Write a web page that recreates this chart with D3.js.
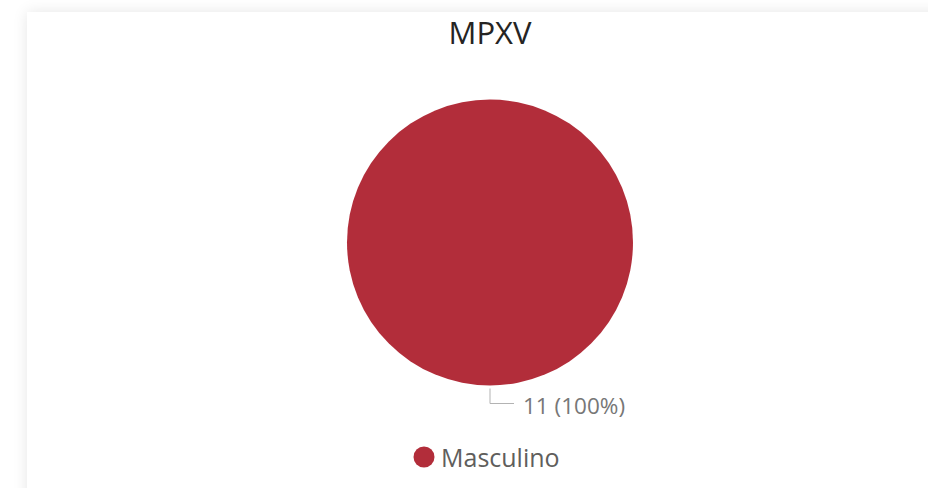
<!DOCTYPE html>
<html><head><meta charset="utf-8">
<script src="https://cdn.jsdelivr.net/npm/d3@7"></script>
<style>
html,body{margin:0;padding:0;background:#fff;width:928px;height:488px;overflow:hidden;}
#card{position:absolute;left:27px;top:12px;width:960px;height:520px;background:#fff;box-shadow:0 0 14px rgba(0,0,0,0.10);}
svg{position:absolute;left:0;top:0;}
</style></head><body>
<div id="card"></div>
<svg id="chart" width="928" height="488"></svg>
<script>
const title = "MPXV";
const categories = ["Masculino"];
const values = [11];
const colors = ["#B22D3A"];

const svg = d3.select("#chart");
const cx = 490, cy = 242.5, r = 143;
const total = d3.sum(values);

svg.append("text").attr("x", 490).attr("y", 44)
  .attr("text-anchor", "middle")
  .style("font-family", "'Open Sans', sans-serif")
  .style("font-size", "31px")
  .style("fill", "#252423")
  .text(title);

const pie = d3.pie().sort(null).value(d => d)(values);
const arc = d3.arc().innerRadius(0).outerRadius(r);
const color = d3.scaleOrdinal().domain(categories).range(colors);

const g = svg.append("g").attr("transform", `translate(${cx},${cy})`);
g.selectAll("path").data(pie).join("path")
  .attr("d", arc)
  .attr("fill", (d, i) => color(categories[i]));

// label with leader line
pie.forEach((d, i) => {
  const mid = (d.startAngle + d.endAngle) / 2; // pi -> bottom
  const x0 = Math.sin(mid) * (r + 3), y0 = -Math.cos(mid) * (r + 3);
  const y1 = -Math.cos(mid) * (r + 18);
  g.append("path")
    .attr("d", `M${x0},${y0}V${y1}H${x0 + 24}`)
    .attr("fill", "none").attr("stroke", "#b3b3b3").attr("stroke-width", 1);
  g.append("text").attr("x", x0 + 33).attr("y", y1 + 10)
    .style("font-family", "'Open Sans', sans-serif")
    .style("font-size", "22.5px").style("fill", "#777777")
    .text(`${values[i]} (${d3.format(".0%")(values[i] / total)})`);
});

// legend
const lg = svg.append("g").attr("transform", "translate(424,457)");
categories.forEach((c, i) => {
  lg.append("circle").attr("cx", 0).attr("cy", 0).attr("r", 10.5).attr("fill", color(c));
  lg.append("text").attr("x", 17).attr("y", 9.5)
    .style("font-family", "'Open Sans', sans-serif")
    .style("font-size", "25px").style("fill", "#605E5C")
    .text(c);
});
</script>
</body></html>
